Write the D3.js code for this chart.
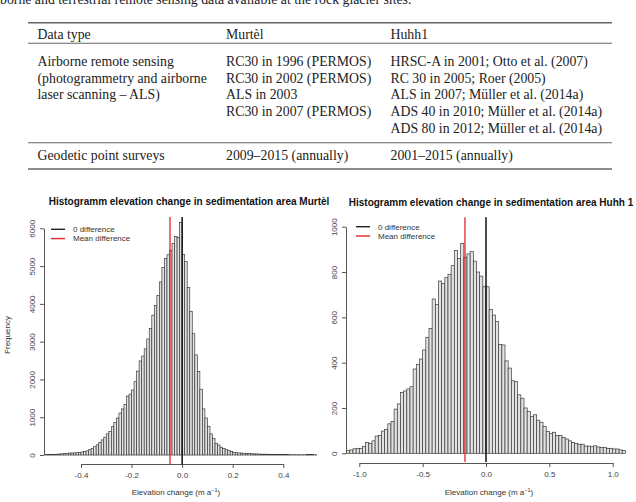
<!DOCTYPE html>
<html>
<head>
<meta charset="utf-8">
<script src="https://cdn.jsdelivr.net/npm/d3@7"></script>
<style>
  body { margin: 0; background: #fff; }
  svg { display: block; }
</style>
</head>
<body>
<div id="chart"></div>
<script>
// Table text
const captionText = "borne and terrestrial remote sensing data available at the rock glacier sites.";
const tableColumns = ["Data type", "Murtèl", "Huhh1"];
const airborneRow = [
  ["Airborne remote sensing", "(photogrammetry and airborne", "laser scanning – ALS)"],
  ["RC30 in 1996 (PERMOS)", "RC30 in 2002 (PERMOS)", "ALS in 2003", "RC30 in 2007 (PERMOS)"],
  ["HRSC-A in 2001; Otto et al. (2007)", "RC 30 in 2005; Roer (2005)", "ALS in 2007; Müller et al. (2014a)",
   "ADS 40 in 2010; Müller et al. (2014a)", "ADS 80 in 2012; Müller et al. (2014a)"],
];
const geodeticRow = [["Geodetic point surveys"], ["2009–2015 (annually)"], ["2001–2015 (annually)"]];

// Histogram Murtèl: bins of 0.01 from -0.54
const murtelBinStart = -0.54;
const murtelBinWidth = 0.01;
const murtelCounts = [
  10, 12, 15, 15, 20, 25, 30, 35, 45, 50,
  55, 55, 60, 70, 80, 95, 110, 140, 170, 220,
  270, 330, 400, 470, 560, 620, 750, 860, 980, 1110,
  1220, 1340, 1560, 1610, 1720, 1940, 2220, 2490, 2620, 2810,
  3070, 3350, 3700, 3960, 4220, 4580, 4960, 5200, 5300, 5420,
  5600, 5780, 5760, 6150,
  5310, 5120, 4430, 3800, 3210, 2650, 2210, 1740, 1220, 980,
  760, 560, 440, 310, 265, 205, 175, 140, 115, 90,
  70, 60, 55, 50, 45, 42, 38, 35, 30, 28,
  25, 22, 20, 20, 18, 15, 15, 12, 12, 10,
  10, 10, 8, 8, 7, 6, 6, 5, 5, 10,
  12, 10, 5, 3, 3,
];
const murtelMean = -0.048;
const murtelXTicks = [-0.4, -0.2, 0, 0.2, 0.4];
const murtelYTicks = [0, 1000, 2000, 3000, 4000, 5000, 6000];

// Histogram Huhh 1: bins of 0.025 from -1.1
const huhhBinStart = -1.1;
const huhhBinWidth = 0.025;
const huhhCounts = [
  12, 15, 20, 22, 22, 30, 48, 44, 55, 76,
  78, 98, 105, 130, 140, 195, 218, 268, 275, 284,
  294, 372, 393, 416, 456, 512, 551, 681, 657, 760,
  750, 775, 790, 828, 895, 860, 926,
  865, 880, 890, 848, 800, 782, 735,
  735, 635, 610, 582, 480, 478, 408, 376, 320, 316,
  258, 243, 200, 184, 162, 170, 146, 137, 118, 96,
  88, 93, 78, 78, 70, 63, 55, 48, 44, 40,
  40, 32, 32, 29, 33, 28, 25, 25, 22, 22,
  19, 19, 15, 12,
];
const huhhMean = -0.166;
const huhhXTicks = [-1.0, -0.5, 0, 0.5, 1.0];
const huhhYTicks = [0, 200, 400, 600, 800, 1000];

const legendLabels = ["0 difference", "Mean difference"];

const W = 636, H = 502;
const sans = "'Liberation Sans', Arial, sans-serif";
const serif = "'Liberation Serif', 'Times New Roman', serif";

const svg = d3.select("#chart").append("svg")
  .attr("width", W).attr("height", H)
  .attr("viewBox", `0 0 ${W} ${H}`);
svg.append("rect").attr("width", W).attr("height", H).attr("fill", "#fff");

// ---- Table ----
const table = svg.append("g").attr("font-family", serif).attr("font-size", 13.8).attr("fill", "#222");
table.append("text").attr("x", 0).attr("y", 4).text(captionText);

const colX = [37.5, 226, 390.5];
const lineGap = 16.7;
[[22.7, 1.4], [43.3, 1.1], [142.7, 1.1], [169, 1.4]].forEach(([y, w]) => {
  table.append("line").attr("x1", 28).attr("x2", 612).attr("y1", y).attr("y2", y)
    .attr("stroke", "#666").attr("stroke-width", w);
});
tableColumns.forEach((t, i) => table.append("text").attr("x", colX[i]).attr("y", 39).text(t));
airborneRow.forEach((lines, i) => {
  lines.forEach((t, j) => table.append("text").attr("x", colX[i]).attr("y", 66 + j * lineGap).text(t));
});
geodeticRow.forEach((lines, i) => {
  lines.forEach((t, j) => table.append("text").attr("x", colX[i]).attr("y", 160 + j * lineGap).text(t));
});

// ---- Histograms ----
const fmt = (d) => d3.format(".1f")(d).replace("−", "-");

function histogram(opt) {
  const g = svg.append("g").attr("font-family", sans);
  const x = d3.scaleLinear().domain(opt.xDomain).range(opt.xRange);
  const y = d3.scaleLinear().domain(opt.yDomain).range(opt.yRange);

  // title
  g.append("text")
    .attr("x", opt.titleX).attr("y", opt.titleY)
    .attr("text-anchor", "middle").attr("font-size", 10).attr("font-weight", "bold")
    .attr("fill", "#111").text(opt.title);

  // bars
  const clipId = "clip" + opt.key;
  g.append("clipPath").attr("id", clipId).append("rect")
    .attr("x", 0).attr("y", 0).attr("width", opt.clipRight).attr("height", H);
  g.append("g").attr("clip-path", `url(#${clipId})`)
    .selectAll("rect").data(opt.counts).enter().append("rect")
    .attr("x", (d, i) => x(opt.binStart + i * opt.binWidth))
    .attr("width", x(opt.binWidth) - x(0))
    .attr("y", (d) => y(d))
    .attr("height", (d) => y(0) - y(d))
    .attr("fill", "#e3e3e3")
    .attr("stroke", "#3a3a3a")
    .attr("stroke-width", 0.7);

  // x axis
  const xAxis = g.append("g")
    .attr("transform", `translate(0,${opt.xAxisY})`)
    .call(d3.axisBottom(x).tickValues(opt.xTicks).tickFormat(fmt).tickSize(4).tickSizeOuter(0).tickPadding(4));
  xAxis.selectAll("path,line").attr("stroke", "#555");
  xAxis.selectAll("text").attr("font-size", 8).attr("fill", "#444").attr("font-family", sans);

  // y axis
  const yAxis = g.append("g")
    .attr("transform", `translate(${opt.yAxisX},0)`)
    .call(d3.axisLeft(y).tickValues(opt.yTicks).tickFormat(d3.format("d")).tickSize(4).tickSizeOuter(0));
  yAxis.selectAll("path,line").attr("stroke", "#555");
  yAxis.selectAll("text")
    .attr("font-size", 8).attr("fill", "#444").attr("font-family", sans)
    .attr("x", 0).attr("dy", 0).attr("text-anchor", "middle")
    .attr("transform", "translate(-9,0) rotate(-90)");

  // axis titles
  const xt = g.append("text")
    .attr("x", opt.xTitleX).attr("y", 495)
    .attr("text-anchor", "middle").attr("font-size", 8).attr("fill", "#333");
  xt.append("tspan").text("Elevation change (m a");
  xt.append("tspan").attr("font-size", 5.5).attr("dy", -3).text("−1");
  xt.append("tspan").attr("dy", 3).text(")");
  if (opt.yTitle) {
    g.append("text")
      .attr("transform", `translate(10,335) rotate(-90)`)
      .attr("text-anchor", "middle").attr("font-size", 8).attr("fill", "#333")
      .text(opt.yTitle);
  }

  // zero and mean lines
  const [yTop, yBot] = opt.lineSpan;
  [[0, "#111", 1.5], [opt.mean, "#e3262b", 1.3]].forEach(([v, c, w]) => {
    g.append("line")
      .attr("x1", x(v)).attr("x2", x(v))
      .attr("y1", y(yTop)).attr("y2", y(yBot))
      .attr("stroke", c).attr("stroke-width", w);
  });

  // legend
  const lg = g.append("g").attr("transform", `translate(${opt.legend[0]},${opt.legend[1]})`);
  ["#222", "#e3262b"].forEach((c, i) => {
    lg.append("line").attr("x1", 0).attr("x2", 14).attr("y1", i * 9.3).attr("y2", i * 9.3)
      .attr("stroke", c).attr("stroke-width", 1.4);
    lg.append("text").attr("x", 22).attr("y", i * 9.3).attr("dy", "0.35em")
      .attr("font-size", 8).attr("fill", "#333").text(legendLabels[i]);
  });
}

histogram({
  key: "m",
  title: "Histogramm elevation change in sedimentation area Murtèl",
  titleX: 189, titleY: 205,
  counts: murtelCounts, binStart: murtelBinStart, binWidth: murtelBinWidth,
  xDomain: [-0.4, 0.4], xRange: [81, 283.3],
  yDomain: [0, 6000], yRange: [455, 228.3],
  xTicks: murtelXTicks, yTicks: murtelYTicks,
  xAxisY: 464, yAxisX: 44, xTitleX: 176,
  yTitle: "Frequency",
  mean: murtelMean, lineSpan: [6300, -250],
  legend: [51, 229.3], clipRight: 317,
});

histogram({
  key: "h",
  title: "Histogramm elevation change in sedimentation area Huhh 1",
  titleX: 491, titleY: 206,
  counts: huhhCounts, binStart: huhhBinStart, binWidth: huhhBinWidth,
  xDomain: [-1, 1], xRange: [359.3, 612.7],
  yDomain: [0, 1000], yRange: [453.3, 226.7],
  xTicks: huhhXTicks, yTicks: huhhYTicks,
  xAxisY: 463, yAxisX: 346, xTitleX: 489,
  yTitle: null,
  mean: huhhMean, lineSpan: [1042, -38],
  legend: [356, 226.7], clipRight: W,
});
</script>
</body>
</html>
